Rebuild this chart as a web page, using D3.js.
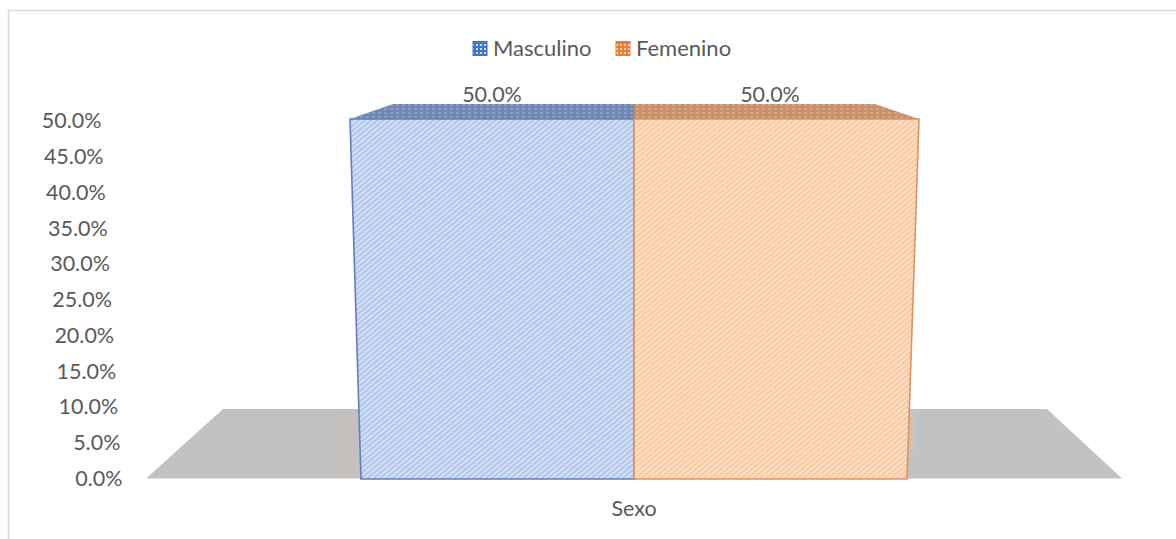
<!DOCTYPE html>
<html>
<head>
<meta charset="utf-8">
<script src="https://cdnjs.cloudflare.com/ajax/libs/d3/7.8.5/d3.min.js"></script>
<style>
body { margin: 0; background: #fff; }
text { font-family: Lato, "Open Sans", sans-serif; fill: #595959; }
</style>
</head>
<body>
<script>
var category = 'Sexo';
var seriesNames = ['Masculino', 'Femenino'];
var seriesValues = [0.5, 0.5];
var tickValues = [0, 0.05, 0.1, 0.15, 0.2, 0.25, 0.3, 0.35, 0.4, 0.45, 0.5];
var frontColors = ['#b4c8ec', '#fbc9a0'];
var lineColors = ['#4472c4', '#ed7d31'];
var edgeColors = ['#5f7fb8', '#dc9263'];
var topColors = ['#6f88b4', '#c8916a'];

var width = 1176, height = 539;
var svg = d3.select('body').append('svg').attr('width', width).attr('height', height)
    .style('display', 'block');

// value to pixel height on the front of the box
var y = d3.scaleLinear().domain([0, 0.5]).range([479, 119]);
// perspective: the left and right walls lean outward as the value goes up
var leftEdge = d3.scaleLinear().domain([0, 0.5]).range([361, 350]);
var rightEdge = d3.scaleLinear().domain([0, 0.5]).range([907, 919]);
var labelEdge = d3.scaleLinear().domain([0, 0.5]).range([122.5, 101.5]);
var labelY = d3.scaleLinear().domain([0, 0.5]).range([478, 120.5]);
var pct = d3.format('.1%');
var midX = 634;

var defs = svg.append('defs');
seriesNames.forEach(function(name, i) {
    var p = defs.append('pattern').attr('id', 'hatch' + i).attr('width', 4).attr('height', 4)
        .attr('patternUnits', 'userSpaceOnUse').attr('patternTransform', 'rotate(-40)');
    p.append('rect').attr('width', 4).attr('height', 4).attr('fill', frontColors[i]);
    p.append('rect').attr('width', 4).attr('height', 1.3).attr('fill', '#fff').attr('opacity', 0.6);
    var t = defs.append('pattern').attr('id', 'top' + i).attr('width', 6).attr('height', 4)
        .attr('patternUnits', 'userSpaceOnUse');
    t.append('rect').attr('width', 6).attr('height', 4).attr('fill', topColors[i]);
    t.append('rect').attr('width', 3).attr('height', 2).attr('fill', '#fff').attr('opacity', 0.18);
    var q = defs.append('pattern').attr('id', 'swatch' + i).attr('width', 4).attr('height', 4)
        .attr('patternUnits', 'userSpaceOnUse');
    q.append('rect').attr('width', 4).attr('height', 4).attr('fill', lineColors[i]);
    q.append('rect').attr('width', 2).attr('height', 2).attr('fill', '#fff').attr('opacity', 0.75);
});

// chart frame, only top and left show
svg.append('path').attr('d', 'M8.5,539V10.5H1176').attr('fill', 'none').attr('stroke', '#d9d9d9').attr('stroke-width', 1.5);

// floor
svg.append('path').attr('d', 'M146,478.5L223,409H1047L1122,478.5Z').attr('fill', '#c2c2c2');
// faint reflections of the walls on the floor
svg.append('rect').attr('x', 332).attr('y', 410).attr('width', 26).attr('height', 68).attr('fill', '#c5c0be');
svg.append('rect').attr('x', 908).attr('y', 410).attr('width', 6).attr('height', 40).attr('fill', '#cfc2b9');
svg.append('rect').attr('x', 917).attr('y', 410).attr('width', 6).attr('height', 40).attr('fill', '#bfc3c8');
svg.append('rect').attr('x', 926).attr('y', 410).attr('width', 5).attr('height', 40).attr('fill', '#c7c1bd');
svg.append('rect').attr('x', 934).attr('y', 410).attr('width', 4).attr('height', 40).attr('fill', '#bfc3c8');

// top faces
svg.append('path').attr('d', d3.line()([[leftEdge(0.5), y(0.5)], [393, 104], [midX, 104], [midX, y(0.5)]]) + 'Z')
    .attr('fill', 'url(#top0)');
svg.append('path').attr('d', d3.line()([[midX, y(0.5)], [midX, 104], [875, 104], [rightEdge(0.5), y(0.5)]]) + 'Z')
    .attr('fill', 'url(#top1)');

// front faces
svg.append('path').attr('d', d3.line()([[leftEdge(0), y(0)], [leftEdge(seriesValues[0]), y(seriesValues[0])], [midX, y(seriesValues[0])], [midX, y(0)]]) + 'Z')
    .attr('fill', 'url(#hatch0)').attr('stroke', edgeColors[0]).attr('stroke-width', 1.6);
svg.append('path').attr('d', d3.line()([[midX, y(0)], [midX, y(seriesValues[1])], [rightEdge(seriesValues[1]), y(seriesValues[1])], [rightEdge(0), y(0)]]) + 'Z')
    .attr('fill', 'url(#hatch1)').attr('stroke', edgeColors[1]).attr('stroke-width', 1.6);

// y tick labels
svg.selectAll('.tick-label').data(tickValues).enter().append('text').attr('class', 'tick-label')
    .attr('x', d => labelEdge(d)).attr('y', d => labelY(d)).attr('dy', '0.37em')
    .attr('text-anchor', 'end').attr('font-size', 21.5).text(d => pct(d));

// data labels
var labelX = [492, 770];
svg.selectAll('.data-label').data(seriesValues).enter().append('text').attr('class', 'data-label')
    .attr('x', (d, i) => labelX[i]).attr('y', 102)
    .attr('text-anchor', 'middle').attr('font-size', 21.5).text(d => pct(d));

// category
svg.append('text').attr('x', 634).attr('y', 516).attr('text-anchor', 'middle').attr('font-size', 21.5).text(category);

// legend
var legendX = [473, 616];
seriesNames.forEach(function(name, i) {
    svg.append('rect').attr('x', legendX[i]).attr('y', 41.5).attr('width', 14).attr('height', 14)
        .attr('fill', 'url(#swatch' + i + ')').attr('stroke', lineColors[i]);
    svg.append('text').attr('x', legendX[i] + 20).attr('y', 56).attr('font-size', 22).text(name);
});
</script>
</body>
</html>
